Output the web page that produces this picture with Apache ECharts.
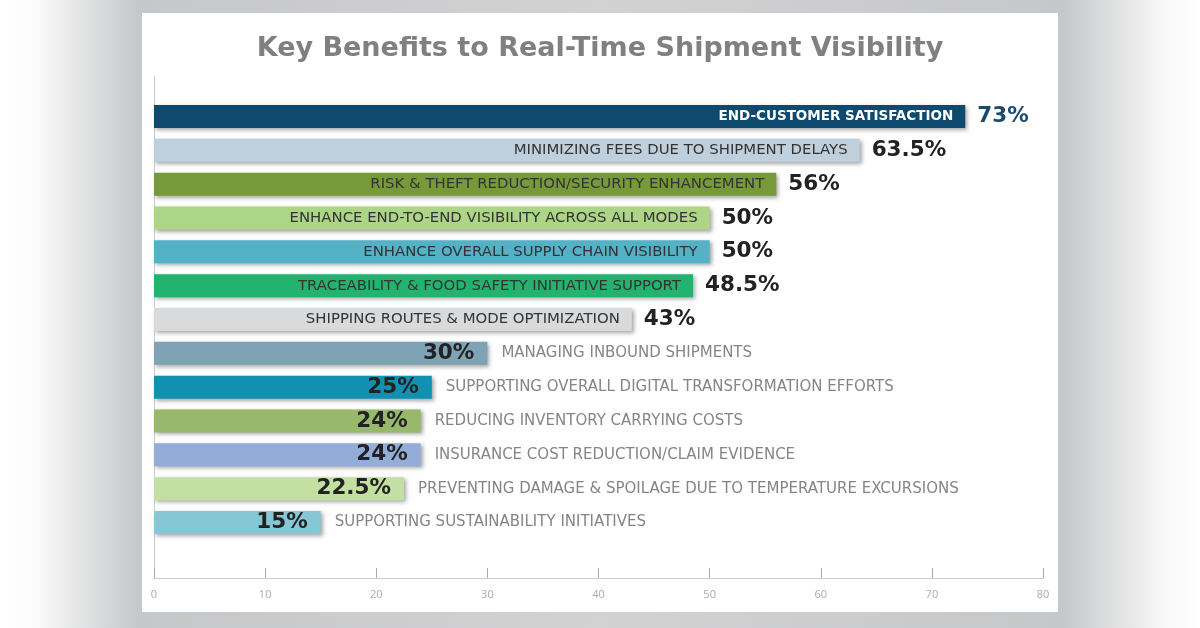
<!DOCTYPE html>
<html>
<head>
<meta charset="utf-8">
<script src="https://cdn.jsdelivr.net/npm/echarts@6/dist/echarts.min.js"></script>
<style>
html,body{margin:0;padding:0;background:#fff;}
#chart{width:1200px;height:628px;}
</style>
</head>
<body>
<div id="chart"></div>
<script>
const title = 'Key Benefits to Real-Time Shipment Visibility';
const categories = [
  'END-CUSTOMER SATISFACTION',
  'MINIMIZING FEES DUE TO SHIPMENT DELAYS',
  'RISK & THEFT REDUCTION/SECURITY ENHANCEMENT',
  'ENHANCE END-TO-END VISIBILITY ACROSS ALL MODES',
  'ENHANCE OVERALL SUPPLY CHAIN VISIBILITY',
  'TRACEABILITY & FOOD SAFETY INITIATIVE SUPPORT',
  'SHIPPING ROUTES & MODE OPTIMIZATION',
  'MANAGING INBOUND SHIPMENTS',
  'SUPPORTING OVERALL DIGITAL TRANSFORMATION EFFORTS',
  'REDUCING INVENTORY CARRYING COSTS',
  'INSURANCE COST REDUCTION/CLAIM EVIDENCE',
  'PREVENTING DAMAGE & SPOILAGE DUE TO TEMPERATURE EXCURSIONS',
  'SUPPORTING SUSTAINABILITY INITIATIVES'
];
const values = [73, 63.5, 56, 50, 50, 48.5, 43, 30, 25, 24, 24, 22.5, 15];
const barColors = ['#0d4a6d','#bfd0dc','#76993a','#acd585','#55b1c6','#22b36e','#d9dadb',
                   '#7fa2b5','#1290b1','#98b86b','#93acd8','#c3e0a2','#86c7d6'];
const xMin = 0, xMax = 80, xStep = 10;

const chart = echarts.init(document.getElementById('chart'), null, {renderer:'canvas'});
const fam = 'DejaVu Sans';
const catFam = 'DejaVu Sans';

const insideItems = values.map((v, i) => {
  const top = v > 40;
  return {
    value: v,
    itemStyle: {color: barColors[i]},
    label: top ? {
      show: true, position: 'insideRight', distance: 12,
      formatter: categories[i],
      color: i === 0 ? '#ffffff' : '#333333',
      fontWeight: i === 0 ? 'bold' : 'normal',
      fontSize: i === 0 ? 13.5 : 14.9, fontFamily: catFam
    } : {
      show: true, position: 'insideRight', distance: 13,
      formatter: v + '%',
      color: '#222222', fontWeight: 'bold', fontSize: 21.5, fontFamily: fam
    }
  };
});
const outsideItems = values.map((v, i) => {
  const top = v > 40;
  return {
    value: v,
    label: top ? {
      show: true, position: 'right', distance: 12,
      formatter: v + '%',
      color: i === 0 ? '#1b4a6e' : '#222222',
      fontWeight: 'bold', fontSize: 21.5, fontFamily: fam
    } : {
      show: true, position: 'right', distance: 14,
      formatter: categories[i],
      color: '#858585', fontWeight: 'normal', fontSize: 15, fontFamily: catFam
    }
  };
});

const option = {
  animation: false,
  graphic: [
    {type:'rect', z:-100, silent:true, shape:{x:0,y:0,width:1200,height:628},
     style:{fill:{type:'linear',x:0,y:0,x2:1,y2:0,colorStops:[
       {offset:0,color:'#ffffff'},{offset:0.03,color:'#fbfbfb'},{offset:0.115,color:'#c6c7c9'},
       {offset:0.5,color:'#d2d2d3'},
       {offset:0.885,color:'#c6c7c9'},{offset:0.97,color:'#f8f8f8'},{offset:1,color:'#ffffff'}]}}},
    {type:'rect', z:-99, silent:true, shape:{x:142,y:13,width:916,height:599},
     style:{fill:'#ffffff'}}
  ],
  title: {
    text: title, left: 'center', top: 30,
    textStyle: {fontFamily: fam, fontWeight: 'bold', fontSize: 27, color: '#808080'}
  },
  grid: [
    {left:154, right:157, top:76, bottom:50},
    {left:154, right:157, top:99.6, height:439.8}
  ],
  xAxis: [
    {gridIndex:0, type:'value', min:xMin, max:xMax, interval:xStep,
     axisLine:{show:true, lineStyle:{color:'#cccccc'}},
     axisTick:{show:true, inside:true, length:10, lineStyle:{color:'#aaaaaa'}},
     axisLabel:{color:'#aaaaaa', fontSize:11, margin:11, fontFamily:'Open Sans'},
     splitLine:{show:false}},
    {gridIndex:1, type:'value', min:xMin, max:xMax, show:false, splitLine:{show:false}}
  ],
  yAxis: [
    {gridIndex:0, type:'category', data:[''],
     axisLine:{show:true, lineStyle:{color:'#cccccc'}}, axisTick:{show:false}, axisLabel:{show:false}},
    {gridIndex:1, type:'category', data:categories, inverse:true, show:false}
  ],
  series: [
    {type:'bar', xAxisIndex:1, yAxisIndex:1, data: insideItems, barWidth: 23,
     itemStyle:{shadowBlur:4, shadowColor:'rgba(0,0,0,0.35)', shadowOffsetX:2, shadowOffsetY:2}},
    {type:'bar', xAxisIndex:1, yAxisIndex:1, data: outsideItems, barWidth: 23, barGap:'-100%',
     itemStyle:{color:'rgba(0,0,0,0)'}}
  ]
};
chart.setOption(option);
</script>
</body>
</html>
